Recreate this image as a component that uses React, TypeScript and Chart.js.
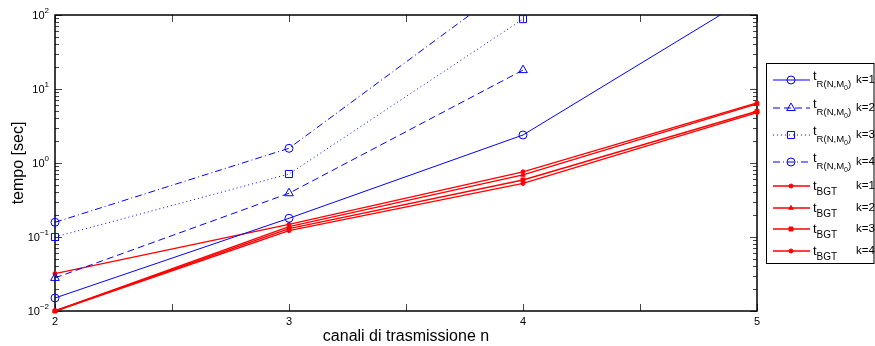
import React, { useEffect, useRef } from 'react';
import { Chart, registerables } from 'chart.js';

Chart.register(...registerables);

// ---- data ----
const channels = [2, 3, 4, 5];
const xTickLabels = ['2', '3', '4', '5'];
const xHalfTicks = [2.5, 3.5, 4.5];
const yDecadeExponents = [-2, -1, 0, 1, 2];

const tR_k1 = [0.015, 0.179, 2.39, 200];
const tR_k2 = [0.028, 0.39, 18, null];
const tR_k3 = [0.1, 0.71, 88, null];
const tR_k4 = [0.158, 1.58, 340, null];
const tBGT_k1 = [0.032, 0.148, 0.76, 6.5];
const tBGT_k2 = [0.01, 0.138, 0.69, 6.3];
const tBGT_k3 = [0.01, 0.13, 0.59, 5.0];
const tBGT_k4 = [0.01, 0.122, 0.53, 4.8];

const kLabels = ['k=1', 'k=2', 'k=3', 'k=4', 'k=1', 'k=2', 'k=3', 'k=4'];
const xTitle = 'canali di trasmissione n';
const yTitle = 'tempo [sec]';
const legendMain = 't';
const rSubscript = ['R(N,M', '0', ')'];
const bgtSubscript = 'BGT';

// ---- styles ----
const BLUE = '#0000ff';
const RED = '#ff0000';
const FONT = "'Liberation Sans', Arial, Helvetica, sans-serif";

type Def = {
  kind: 'R' | 'BGT';
  values: (number | null)[];
  color: string;
  dash: number[];
  point: 'circle' | 'triangle' | 'rect';
  r: number;
  filled: boolean;
  width: number;
};

const defs: Def[] = [
  { kind: 'R', values: tR_k1, color: BLUE, dash: [], point: 'circle', r: 4, filled: false, width: 1 },
  { kind: 'R', values: tR_k2, color: BLUE, dash: [7, 4], point: 'triangle', r: 5, filled: false, width: 1 },
  { kind: 'R', values: tR_k3, color: BLUE, dash: [1, 3], point: 'rect', r: 5, filled: false, width: 1 },
  { kind: 'R', values: tR_k4, color: BLUE, dash: [7, 3, 1, 3], point: 'circle', r: 4, filled: false, width: 1 },
  { kind: 'BGT', values: tBGT_k1, color: RED, dash: [], point: 'circle', r: 2, filled: true, width: 1.4 },
  { kind: 'BGT', values: tBGT_k2, color: RED, dash: [], point: 'triangle', r: 2.6, filled: true, width: 1.4 },
  { kind: 'BGT', values: tBGT_k3, color: RED, dash: [], point: 'rect', r: 2.8, filled: true, width: 1.4 },
  { kind: 'BGT', values: tBGT_k4, color: RED, dash: [], point: 'circle', r: 2, filled: true, width: 1.4 },
];

function drawMarker(ctx: CanvasRenderingContext2D, d: Def, x: number, y: number) {
  ctx.save();
  ctx.setLineDash([]);
  ctx.lineWidth = 1;
  ctx.strokeStyle = d.color;
  ctx.fillStyle = d.color;
  ctx.beginPath();
  if (d.point === 'circle') {
    ctx.arc(x, y, d.r, 0, Math.PI * 2);
  } else if (d.point === 'triangle') {
    let a = 0;
    ctx.moveTo(x + Math.sin(a) * d.r, y - Math.cos(a) * d.r);
    a += (2 * Math.PI) / 3;
    ctx.lineTo(x + Math.sin(a) * d.r, y - Math.cos(a) * d.r);
    a += (2 * Math.PI) / 3;
    ctx.lineTo(x + Math.sin(a) * d.r, y - Math.cos(a) * d.r);
    ctx.closePath();
  } else {
    const s = Math.SQRT1_2 * d.r;
    ctx.rect(x - s, y - s, 2 * s, 2 * s);
  }
  if (d.filled) ctx.fill();
  ctx.stroke();
  ctx.restore();
}

const axesPlugin = {
  id: 'matlabAxes',
  beforeDatasetsDraw(chart: any) {
    const { ctx, chartArea: a, scales } = chart;
    const xs = scales.x;
    const ys = scales.y;
    ctx.save();
    // ticks
    ctx.strokeStyle = '#444';
    ctx.lineWidth = 1;
    ctx.setLineDash([]);
    const xTicks = [...channels, ...xHalfTicks];
    xTicks.forEach((v) => {
      const px = Math.round(xs.getPixelForValue(v)) + 0.5;
      ctx.beginPath();
      ctx.moveTo(px, a.bottom);
      ctx.lineTo(px, a.bottom - 7);
      ctx.moveTo(px, a.top);
      ctx.lineTo(px, a.top + 7);
      ctx.stroke();
    });
    yDecadeExponents.forEach((e) => {
      const py = Math.round(ys.getPixelForValue(Math.pow(10, e))) + 0.5;
      ctx.beginPath();
      ctx.moveTo(a.left, py);
      ctx.lineTo(a.left + 7, py);
      ctx.moveTo(a.right, py);
      ctx.lineTo(a.right - 7, py);
      ctx.stroke();
      if (e < 2) {
        for (let m = 2; m <= 9; m++) {
          const pm = Math.round(ys.getPixelForValue(m * Math.pow(10, e))) + 0.5;
          ctx.beginPath();
          ctx.moveTo(a.left, pm);
          ctx.lineTo(a.left + 4, pm);
          ctx.moveTo(a.right, pm);
          ctx.lineTo(a.right - 4, pm);
          ctx.stroke();
        }
      }
    });
    // box
    ctx.strokeStyle = '#000';
    ctx.lineWidth = 1.5;
    ctx.strokeRect(a.left, a.top, a.right - a.left, a.bottom - a.top);

    // tick labels
    ctx.fillStyle = '#000';
    ctx.font = `11px ${FONT}`;
    ctx.textAlign = 'center';
    ctx.textBaseline = 'middle';
    channels.forEach((v, i) => {
      ctx.fillText(xTickLabels[i], xs.getPixelForValue(v), a.bottom + 11);
    });
    yDecadeExponents.forEach((e) => {
      const py = ys.getPixelForValue(Math.pow(10, e));
      const expText = e < 0 ? `\u2212${-e}` : `${e}`;
      ctx.font = `8px ${FONT}`;
      const ew = ctx.measureText(expText).width;
      const right = a.left - 6;
      ctx.textAlign = 'left';
      ctx.textBaseline = 'alphabetic';
      ctx.fillText(expText, right - ew, py - 2);
      ctx.font = `11px ${FONT}`;
      ctx.textAlign = 'right';
      ctx.textBaseline = 'middle';
      ctx.fillText('10', right - ew, py + 1);
    });

    // axis titles
    ctx.font = `16px ${FONT}`;
    ctx.textAlign = 'center';
    ctx.textBaseline = 'middle';
    ctx.fillText(xTitle, (a.left + a.right) / 2, a.bottom + 26);
    ctx.save();
    ctx.translate(19, (a.top + a.bottom) / 2);
    ctx.rotate(-Math.PI / 2);
    ctx.fillText(yTitle, 0, 0);
    ctx.restore();
    ctx.restore();
  },
  afterDraw(chart: any) {
    const { ctx } = chart;
    ctx.save();
    ctx.fillStyle = '#fff';
    ctx.fillRect(766, 63, 108, 200);
    ctx.strokeStyle = '#000';
    ctx.lineWidth = 1;
    ctx.setLineDash([]);
    ctx.strokeRect(766.5, 63.5, 107.5, 200);
    const rowY = [80, 108, 135, 162, 186, 208, 229, 251];
    defs.forEach((d, i) => {
      const y = rowY[i];
      ctx.save();
      ctx.strokeStyle = d.color;
      ctx.lineWidth = d.width;
      ctx.setLineDash(d.dash);
      ctx.beginPath();
      ctx.moveTo(773, y);
      ctx.lineTo(810, y);
      ctx.stroke();
      ctx.restore();
      drawMarker(ctx, d, 791, y);

      ctx.fillStyle = '#000';
      ctx.textAlign = 'left';
      ctx.textBaseline = 'alphabetic';
      if (d.kind === 'R') {
        ctx.font = `13px ${FONT}`;
        ctx.fillText(legendMain, 813, y);
        let x = 813 + ctx.measureText(legendMain).width;
        ctx.font = `9.5px ${FONT}`;
        ctx.fillText(rSubscript[0], x, y + 7);
        x += ctx.measureText(rSubscript[0]).width;
        ctx.font = `7px ${FONT}`;
        ctx.fillText(rSubscript[1], x, y + 10);
        x += ctx.measureText(rSubscript[1]).width;
        ctx.font = `9.5px ${FONT}`;
        ctx.fillText(rSubscript[2], x, y + 7);
        ctx.font = `11.5px ${FONT}`;
        ctx.fillText(kLabels[i], 856, y + 3);
      } else {
        ctx.font = `13px ${FONT}`;
        ctx.fillText(legendMain, 813, y + 4);
        const x = 813 + ctx.measureText(legendMain).width;
        ctx.font = `10px ${FONT}`;
        ctx.fillText(bgtSubscript, x, y + 9);
        ctx.font = `11.5px ${FONT}`;
        ctx.fillText(kLabels[i], 856, y + 3);
      }
    });
    ctx.restore();
  },
};

export default function App() {
  const ref = useRef<HTMLCanvasElement>(null);
  useEffect(() => {
    const canvas = ref.current;
    if (!canvas) return;
    const datasets = defs.map((d) => ({
      data: channels
        .map((n, i) => ({ x: n, y: d.values[i] }))
        .filter((p) => p.y !== null),
      borderColor: d.color,
      borderWidth: d.width,
      borderDash: d.dash,
      backgroundColor: d.filled ? d.color : 'rgba(0,0,0,0)',
      pointBorderColor: d.color,
      pointBackgroundColor: d.filled ? d.color : 'rgba(0,0,0,0)',
      pointStyle: d.point,
      pointRadius: d.r,
      pointBorderWidth: 1,
      fill: false,
      tension: 0,
      clip: { left: 8, right: 8, top: 0, bottom: 8 },
    }));
    const chart = new Chart(canvas, {
      type: 'line',
      data: { datasets: datasets as any },
      options: {
        animation: false,
        responsive: false,
        layout: { padding: { left: 55, top: 15, right: 118, bottom: 35 } },
        plugins: { legend: { display: false }, tooltip: { enabled: false } },
        scales: {
          x: { type: 'linear', min: 2, max: 5, display: false },
          y: { type: 'logarithmic', min: 0.01, max: 100, display: false },
        },
      },
      plugins: [axesPlugin],
    });
    return () => chart.destroy();
  }, []);
  return (
    <div style={{ position: 'fixed', left: 0, top: 0, width: 875, height: 346, background: '#fff' }}>
      <canvas ref={ref} width={875} height={346} style={{ display: 'block', width: 875, height: 346 }} />
    </div>
  );
}
